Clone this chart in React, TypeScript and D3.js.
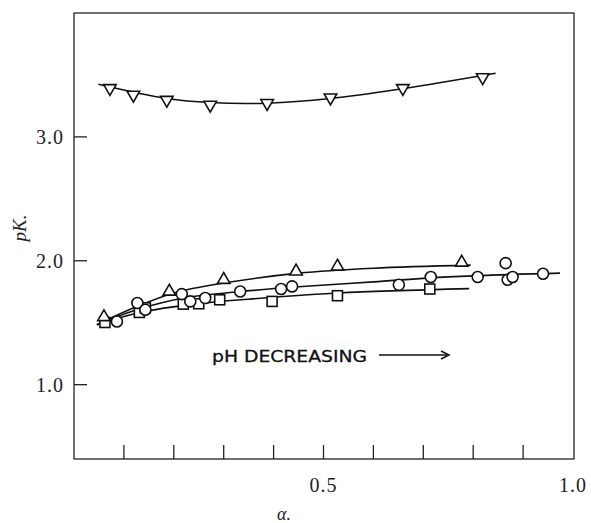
import React, { useEffect, useRef } from 'react';
import * as d3 from 'd3';

// measured points (alpha, pK)
const invTriAlpha = [0.072, 0.119, 0.186, 0.273, 0.387, 0.514, 0.659, 0.819];
const invTriPK = [3.393, 3.339, 3.298, 3.258, 3.272, 3.317, 3.393, 3.481];

const triAlpha = [0.06, 0.191, 0.3, 0.445, 0.528, 0.777];
const triPK = [1.546, 1.752, 1.847, 1.914, 1.954, 1.986];

const circAlpha = [0.086, 0.127, 0.143, 0.216, 0.233, 0.263, 0.333, 0.415, 0.437, 0.651, 0.715, 0.809, 0.865, 0.869, 0.879, 0.94];
const circPK = [1.51, 1.659, 1.605, 1.731, 1.672, 1.699, 1.752, 1.772, 1.793, 1.806, 1.869, 1.869, 1.981, 1.847, 1.869, 1.895];

const sqAlpha = [0.062, 0.131, 0.143, 0.219, 0.25, 0.292, 0.397, 0.528, 0.713];
const sqPK = [1.502, 1.583, 1.62, 1.65, 1.653, 1.685, 1.672, 1.718, 1.772];

// drawn smooth curves (alpha, pK)
const invTriFitAlpha = [0.049, 0.186, 0.273, 0.387, 0.514, 0.659, 0.845];
const invTriFitPK = [3.425, 3.31, 3.277, 3.272, 3.31, 3.39, 3.514];

const triFitAlpha = [0.046, 0.12, 0.2, 0.3, 0.45, 0.6, 0.795];
const triFitPK = [1.484, 1.62, 1.74, 1.82, 1.9, 1.94, 1.965];

const circFitAlpha = [0.046, 0.13, 0.22, 0.33, 0.45, 0.6, 0.75, 0.974];
const circFitPK = [1.484, 1.61, 1.7, 1.75, 1.79, 1.83, 1.87, 1.9];

const sqFitAlpha = [0.046, 0.13, 0.24, 0.35, 0.53, 0.792];
const sqFitPK = [1.484, 1.58, 1.65, 1.69, 1.74, 1.775];

const xTicks = [0.1, 0.2, 0.3, 0.4, 0.5, 0.6, 0.7, 0.8, 0.9];
const xTickLabels = ['0.5', '1.0'];
const yTicks = [1.0, 2.0, 3.0];
const yTickLabels = ['1.0', '2.0', '3.0'];

const zip = (a: number[], b: number[]) => a.map((v, i) => [v, b[i]] as [number, number]);

function initChart(node: SVGSVGElement) {
  const totalWidth = 591;
  const totalHeight = 523;
  const left = 74, right = 574, top = 13, bottom = 459;

  const svg = d3.select(node)
    .attr('width', totalWidth)
    .attr('height', totalHeight);
  svg.selectAll('*').remove();

  const x = d3.scaleLinear().domain([0, 1]).range([left, left + 499]);
  const y = d3.scaleLinear().domain([0.4, 4.0]).range([bottom, top]);

  // frame
  svg.append('rect')
    .attr('x', left).attr('y', top)
    .attr('width', right - left).attr('height', bottom - top)
    .attr('fill', 'none').attr('stroke', '#222').attr('stroke-width', 1.3);

  // x ticks (inward)
  svg.append('g').selectAll('line').data(xTicks).enter().append('line')
    .attr('x1', d => x(d)).attr('x2', d => x(d))
    .attr('y1', bottom).attr('y2', bottom - 14)
    .attr('stroke', '#222').attr('stroke-width', 1.3);
  svg.append('g').selectAll('text').data(xTickLabels).enter().append('text')
    .attr('x', d => x(+d)).attr('y', bottom + 33)
    .attr('text-anchor', 'middle')
    .style('font-family', 'Liberation Serif, serif').style('font-size', '20px')
    .style('letter-spacing', '1px')
    .attr('fill', '#222')
    .text(d => d);

  // y ticks (inward)
  svg.append('g').selectAll('line').data(yTicks).enter().append('line')
    .attr('x1', left).attr('x2', left + 13)
    .attr('y1', d => y(d)).attr('y2', d => y(d))
    .attr('stroke', '#222').attr('stroke-width', 1.3);
  svg.append('g').selectAll('text').data(yTickLabels).enter().append('text')
    .attr('x', left - 10).attr('y', d => y(+d) + 7)
    .attr('text-anchor', 'end')
    .style('font-family', 'Liberation Serif, serif').style('font-size', '20px')
    .style('letter-spacing', '1px')
    .attr('fill', '#222')
    .text(d => d);

  // axis titles
  svg.append('text')
    .attr('transform', 'translate(26,228) rotate(-90)')
    .attr('text-anchor', 'middle')
    .style('font-family', 'Liberation Serif, serif').style('font-size', '19px')
    .style('font-style', 'italic')
    .attr('fill', '#222')
    .text('pK.');
  svg.append('text')
    .attr('x', 284).attr('y', 520)
    .attr('text-anchor', 'middle')
    .style('font-family', 'Liberation Serif, serif').style('font-size', '18px')
    .style('font-style', 'italic')
    .attr('fill', '#222')
    .text('α.');

  // annotation
  svg.append('text')
    .attr('x', 212).attr('y', 362)
    .attr('textLength', 155).attr('lengthAdjust', 'spacingAndGlyphs')
    .style('font-family', 'DejaVu Sans, sans-serif').style('font-size', '16px')
    .style('font-weight', '500')
    .attr('stroke', '#111').attr('stroke-width', 0.3)
    .attr('fill', '#111')
    .text('pH DECREASING');
  svg.append('line')
    .attr('x1', 379).attr('x2', 447).attr('y1', 355).attr('y2', 355)
    .attr('stroke', '#111').attr('stroke-width', 1.5);
  svg.append('path')
    .attr('d', 'M441,351 L449,355 L441,359')
    .attr('fill', 'none').attr('stroke', '#111').attr('stroke-width', 1.5);

  // fitted curves
  const line = d3.line<[number, number]>()
    .x(d => x(d[0])).y(d => y(d[1]))
    .curve(d3.curveCatmullRom.alpha(0.5));
  const fits = [
    zip(invTriFitAlpha, invTriFitPK),
    zip(triFitAlpha, triFitPK),
    zip(circFitAlpha, circFitPK),
    zip(sqFitAlpha, sqFitPK),
  ];
  svg.append('g').selectAll('path').data(fits).enter().append('path')
    .attr('d', d => line(d))
    .attr('fill', 'none').attr('stroke', '#111').attr('stroke-width', 1.6);

  const markerStyle = (sel: any) => sel
    .attr('fill', '#fff').attr('stroke', '#111').attr('stroke-width', 1.6);

  // squares
  markerStyle(svg.append('g').selectAll('rect').data(zip(sqAlpha, sqPK)).enter().append('rect')
    .attr('x', (d: [number, number]) => x(d[0]) - 5).attr('y', (d: [number, number]) => y(d[1]) - 5)
    .attr('width', 10).attr('height', 10));

  // circles
  markerStyle(svg.append('g').selectAll('circle').data(zip(circAlpha, circPK)).enter().append('circle')
    .attr('cx', (d: [number, number]) => x(d[0])).attr('cy', (d: [number, number]) => y(d[1]))
    .attr('r', 5.5));

  // upward triangles
  const triUp = d3.symbol().type(d3.symbolTriangle).size(68);
  markerStyle(svg.append('g').selectAll('path').data(zip(triAlpha, triPK)).enter().append('path')
    .attr('d', triUp)
    .attr('transform', (d: [number, number]) => `translate(${x(d[0])},${y(d[1])})`));

  // downward triangles
  markerStyle(svg.append('g').selectAll('path').data(zip(invTriAlpha, invTriPK)).enter().append('path')
    .attr('d', triUp)
    .attr('transform', (d: [number, number]) => `translate(${x(d[0])},${y(d[1])}) rotate(180)`));

  return svg.node();
}

const App = () => {
  const ref = useRef<SVGSVGElement>(null);
  useEffect(() => {
    document.body.style.margin = '0';
    if (ref.current) initChart(ref.current);
  }, []);

  return (
    <div style={{ background: '#fff' }}>
      <svg ref={ref} style={{ display: 'block' }}></svg>
    </div>
  );
};

export default App;
